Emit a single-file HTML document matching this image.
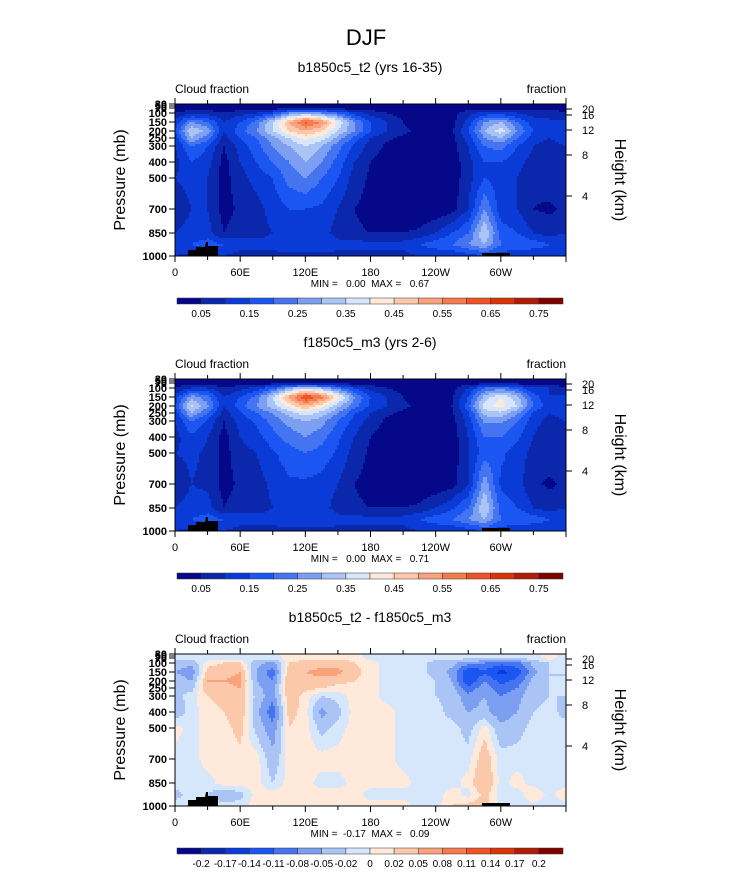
<!DOCTYPE html>
<html><head><meta charset="utf-8">
<style>
body{margin:0;background:#fff;font-family:"Liberation Sans",sans-serif;}
svg text{font-family:"Liberation Sans",sans-serif;fill:#000;white-space:pre;}
</style></head>
<body>
<svg id="chart" width="733" height="888" xmlns="http://www.w3.org/2000/svg">
<text x="366" y="45" font-size="22" text-anchor="middle">DJF</text>
</svg>
<script>
const lons=[0,15,30,45,60,75,90,105,120,135,150,165,180,195,210,225,240,255,270,285,300,315,330,345,360];
const levels=[70,100,150,200,250,300,400,500,700,850,925,1000];
const field1=[
[0.02,0.02,0.02,0.02,0.02,0.02,0.02,0.02,0.03,0.03,0.02,0.02,0.02,0.02,0.02,0.02,0.02,0.02,0.02,0.02,0.02,0.02,0.02,0.02,0.02],
[0.05,0.08,0.08,0.05,0.08,0.1,0.15,0.25,0.3,0.25,0.2,0.12,0.08,0.05,0.03,0.03,0.03,0.03,0.08,0.12,0.12,0.1,0.08,0.1,0.05],
[0.12,0.25,0.2,0.1,0.15,0.22,0.35,0.5,0.62,0.55,0.4,0.25,0.15,0.1,0.05,0.03,0.03,0.03,0.12,0.25,0.3,0.2,0.12,0.1,0.12],
[0.15,0.35,0.28,0.1,0.18,0.25,0.35,0.45,0.5,0.45,0.35,0.25,0.15,0.1,0.06,0.04,0.03,0.04,0.15,0.3,0.38,0.25,0.15,0.12,0.15],
[0.12,0.3,0.22,0.08,0.15,0.2,0.28,0.35,0.42,0.38,0.28,0.18,0.1,0.06,0.04,0.03,0.03,0.03,0.12,0.25,0.3,0.2,0.12,0.1,0.12],
[0.1,0.2,0.15,0.05,0.12,0.18,0.25,0.3,0.35,0.3,0.22,0.14,0.08,0.04,0.02,0.02,0.02,0.03,0.1,0.2,0.22,0.15,0.1,0.08,0.1],
[0.08,0.15,0.12,0.03,0.1,0.15,0.2,0.25,0.3,0.25,0.18,0.1,0.05,0.02,0.01,0.01,0.01,0.02,0.08,0.15,0.15,0.12,0.08,0.06,0.08],
[0.1,0.12,0.1,0.03,0.08,0.12,0.15,0.22,0.25,0.2,0.15,0.08,0.04,0.02,0.01,0.01,0.01,0.02,0.08,0.15,0.12,0.1,0.06,0.08,0.1],
[0.06,0.1,0.1,0.03,0.06,0.08,0.12,0.15,0.15,0.14,0.1,0.05,0.03,0.02,0.01,0.01,0.01,0.03,0.1,0.25,0.12,0.1,0.05,0.04,0.06],
[0.1,0.12,0.12,0.05,0.08,0.08,0.1,0.12,0.12,0.12,0.08,0.06,0.05,0.05,0.05,0.06,0.1,0.15,0.2,0.35,0.18,0.15,0.1,0.08,0.1],
[0.15,0.15,0.18,0.15,0.12,0.12,0.12,0.15,0.15,0.15,0.12,0.12,0.12,0.12,0.12,0.15,0.18,0.2,0.25,0.3,0.2,0.2,0.18,0.15,0.15],
[0.1,0.08,0.1,0.1,0.08,0.08,0.08,0.08,0.08,0.08,0.08,0.08,0.08,0.08,0.08,0.1,0.1,0.1,0.12,0.15,0.12,0.1,0.1,0.1,0.1]];
const field2=[
[0.02,0.02,0.02,0.02,0.02,0.02,0.02,0.02,0.03,0.03,0.02,0.02,0.02,0.02,0.02,0.02,0.02,0.02,0.02,0.02,0.02,0.02,0.02,0.02,0.02],
[0.05,0.1,0.1,0.05,0.08,0.12,0.18,0.28,0.35,0.3,0.22,0.14,0.08,0.05,0.03,0.03,0.03,0.03,0.1,0.2,0.22,0.18,0.1,0.1,0.05],
[0.12,0.28,0.22,0.1,0.15,0.22,0.35,0.52,0.66,0.58,0.42,0.26,0.15,0.1,0.05,0.03,0.03,0.04,0.15,0.32,0.4,0.32,0.18,0.1,0.12],
[0.15,0.36,0.26,0.1,0.18,0.25,0.33,0.42,0.5,0.42,0.32,0.22,0.14,0.1,0.06,0.04,0.03,0.05,0.18,0.38,0.42,0.35,0.2,0.12,0.15],
[0.12,0.3,0.2,0.08,0.14,0.2,0.25,0.32,0.38,0.33,0.25,0.16,0.1,0.06,0.04,0.03,0.03,0.04,0.14,0.32,0.34,0.26,0.14,0.1,0.12],
[0.1,0.2,0.14,0.05,0.12,0.16,0.22,0.27,0.3,0.27,0.2,0.13,0.08,0.04,0.02,0.02,0.02,0.03,0.12,0.26,0.26,0.2,0.12,0.08,0.1],
[0.08,0.14,0.1,0.03,0.1,0.13,0.18,0.22,0.25,0.22,0.16,0.1,0.05,0.02,0.01,0.01,0.01,0.02,0.1,0.2,0.2,0.16,0.1,0.06,0.08],
[0.1,0.11,0.09,0.03,0.08,0.1,0.14,0.18,0.2,0.18,0.14,0.08,0.04,0.02,0.01,0.01,0.01,0.02,0.09,0.18,0.16,0.13,0.08,0.08,0.1],
[0.06,0.1,0.09,0.03,0.06,0.08,0.11,0.14,0.14,0.13,0.1,0.05,0.03,0.02,0.01,0.01,0.01,0.03,0.1,0.28,0.14,0.12,0.06,0.04,0.06],
[0.1,0.12,0.12,0.05,0.08,0.08,0.1,0.12,0.12,0.12,0.08,0.06,0.05,0.05,0.05,0.06,0.1,0.14,0.2,0.35,0.18,0.15,0.1,0.08,0.1],
[0.15,0.15,0.18,0.15,0.12,0.12,0.12,0.15,0.15,0.15,0.12,0.12,0.12,0.12,0.12,0.15,0.18,0.2,0.25,0.3,0.2,0.2,0.18,0.15,0.15],
[0.1,0.08,0.1,0.1,0.08,0.08,0.08,0.08,0.08,0.08,0.08,0.08,0.08,0.08,0.08,0.1,0.1,0.1,0.12,0.15,0.12,0.1,0.1,0.1,0.1]];
const field3=[
[-0.01,-0.01,-0.01,-0.01,-0.01,-0.01,-0.01,0.01,0.01,0.01,0.01,0.01,-0.01,-0.01,-0.01,-0.01,-0.01,-0.01,-0.01,-0.01,-0.01,-0.01,-0.01,0.01,-0.01],
[-0.03,-0.04,0.01,0.02,0.02,-0.04,-0.06,0.02,0.03,0.04,0.04,0.02,0.01,-0.01,-0.01,-0.01,-0.03,-0.04,-0.07,-0.08,-0.1,-0.09,-0.04,-0.02,-0.02],
[-0.05,-0.07,0.03,0.04,0.05,-0.05,-0.1,0.04,0.05,0.06,0.06,0.03,0.01,-0.01,-0.01,-0.01,-0.03,-0.06,-0.14,-0.12,-0.15,-0.13,-0.06,-0.02,-0.02],
[-0.03,-0.05,0.05,0.05,0.06,-0.05,-0.08,0.05,0.04,0.04,0.03,0.02,0.01,-0.01,-0.01,-0.01,-0.02,-0.05,-0.14,-0.08,-0.12,-0.1,-0.04,-0.02,-0.02],
[-0.02,-0.03,0.04,0.04,0.05,-0.04,-0.07,0.05,0.03,0.02,0.01,0.01,0.01,-0.01,-0.01,-0.01,-0.02,-0.04,-0.1,-0.06,-0.1,-0.08,-0.03,-0.02,-0.02],
[-0.03,-0.01,0.02,0.03,0.04,-0.03,-0.07,0.04,0.01,-0.02,-0.01,0.01,0.01,-0.01,-0.01,-0.01,-0.02,-0.03,-0.07,-0.05,-0.08,-0.06,-0.03,-0.02,-0.02],
[-0.04,-0.01,0.01,0.02,0.04,-0.04,-0.1,0.03,0.01,-0.06,-0.03,0.01,0.01,0.01,-0.01,-0.01,-0.01,-0.03,-0.05,-0.04,-0.07,-0.05,-0.02,-0.01,-0.03],
[0.01,-0.01,0.01,0.01,0.03,-0.03,-0.07,0.02,0.01,-0.03,-0.01,0.01,0.01,0.01,-0.01,-0.01,-0.01,-0.01,-0.03,0.01,-0.04,-0.03,-0.01,-0.01,-0.01],
[-0.01,-0.01,0.01,0.01,0.01,0.01,-0.04,0.01,0.01,0.01,0.01,0.01,0.01,0.01,-0.01,-0.01,-0.01,-0.01,-0.01,0.04,-0.01,-0.01,-0.01,-0.01,-0.01],
[-0.01,-0.01,-0.01,0.01,0.01,0.01,-0.02,0.01,0.01,-0.01,-0.01,0.01,0.01,0.01,0.01,-0.01,-0.01,-0.01,0.01,0.05,-0.01,0.01,-0.01,-0.01,-0.01],
[-0.03,-0.01,-0.02,-0.04,-0.03,0.01,0.01,0.01,0.01,0.01,0.01,0.01,-0.01,-0.01,-0.01,-0.01,-0.01,0.01,-0.01,0.03,-0.01,-0.01,0.02,-0.01,0.02],
[-0.01,-0.01,-0.01,-0.01,-0.01,0.01,0.01,0.01,0.01,0.01,0.01,0.01,0.01,0.01,0.01,-0.01,-0.01,0.02,0.03,0.03,-0.01,-0.01,-0.01,-0.01,-0.01]];
const boundsAbs=[0.05,0.1,0.15,0.2,0.25,0.3,0.35,0.4,0.45,0.5,0.55,0.6,0.65,0.7,0.75];
const labelsAbs=["0.05","0.15","0.25","0.35","0.45","0.55","0.65","0.75"];
const boundsDiff=[-0.2,-0.17,-0.14,-0.11,-0.08,-0.05,-0.02,0,0.02,0.05,0.08,0.11,0.14,0.17,0.2];
const labelsDiff=["-0.2","-0.17","-0.14","-0.11","-0.08","-0.05","-0.02","0","0.02","0.05","0.08","0.11","0.14","0.17","0.2"];
const pTicks=[1000,850,700,500,400,300,250,200,150,100,70,50,30];
const hTicks=[4,8,12,16,20];
const xTickLabels=["0","60E","120E","180","120W","60W"];
const titles=["b1850c5_t2 (yrs 16-35)","f1850c5_m3 (yrs 2-6)","b1850c5_t2 - f1850c5_m3"];
const minmax=["MIN =   0.00  MAX =   0.67","MIN =   0.00  MAX =   0.71","MIN =  -0.17  MAX =   0.09"];

const palette=['#06088a','#0b28ad','#0a3bd6','#1b55f2','#4474f0','#7c9ff2','#abc4f6','#d6e6fb','#fee9da','#fcc8aa','#f9a27c','#f47b4e','#ef5224','#d83408','#b21c03','#800000'];
const NS="http://www.w3.org/2000/svg";
const svg=document.getElementById('chart');
const X0=175,X1=566,H=152;
const pRef=[1000,850,700,500,400,300,250,200,150,100,70,50,30];
const yRef=[152,129,105,74,58,42,34,27,18,9,4,2,0];
function yOfP(p){for(let i=0;i<pRef.length-1;i++){if(p<=pRef[i]&&p>=pRef[i+1]){const f=(pRef[i]-p)/(pRef[i]-pRef[i+1]);return yRef[i]+f*(yRef[i+1]-yRef[i]);}}return p>1000?152:0;}
const hRef=[0,4,8,12,16,20];const hy=[152,92,51,26,11,5];
function yOfH(h){for(let i=0;i<hRef.length-1;i++){if(h>=hRef[i]&&h<=hRef[i+1]){const f=(h-hRef[i])/(hRef[i+1]-hRef[i]);return hy[i]+f*(hy[i+1]-hy[i]);}}return 0;}
function xOf(l){return X0+(l/360)*(X1-X0);}
function mk(tag,attrs,parent){const e=document.createElementNS(NS,tag);for(const k in attrs)e.setAttribute(k,attrs[k]);(parent||svg).appendChild(e);return e;}
function colorIdx(v,b){let i=0;while(i<b.length&&v>=b[i])i++;return i;}
function sample(field,lonv,yoff){
  let fx=lonv/15;let i0=Math.min(Math.floor(fx),lons.length-2);let tx=fx-i0;
  const ly=levels.map(yOfP);let j0=0,ty=0;
  if(yoff<=ly[0]){j0=0;ty=0;}else if(yoff>=ly[ly.length-1]){j0=ly.length-2;ty=1;}
  else{for(let j=0;j<ly.length-1;j++){if(yoff>=ly[j]&&yoff<=ly[j+1]){j0=j;ty=(yoff-ly[j])/(ly[j+1]-ly[j]);break;}}}
  const a=field[j0][i0],b=field[j0][i0+1],c=field[j0+1][i0],d=field[j0+1][i0+1];
  return (a*(1-tx)+b*tx)*(1-ty)+(c*(1-tx)+d*tx)*ty;
}
function panel(k,field,bounds,labels){
  const T=104+k*275;
  const g=mk('g',{});
  
  
  const t=mk('text',{x:370,y:T-32,'font-size':14,'text-anchor':'middle'},g);t.textContent=titles[k];
  
  const l1=mk('text',{x:X0,y:T-11,'font-size':12},g);l1.textContent='Cloud fraction';
  
  const l2=mk('text',{x:X1,y:T-11,'font-size':12,'text-anchor':'end'},g);l2.textContent='fraction';
  
  const cells=mk('g',{},g);
  
  const dx=2,dy=2;const W=X1-X0;
  for(let y=0;y<H;y+=dy){
    let runStart=0,runC=-1;
    for(let x=0;x<W+dx;x+=dx){
      let c=-1;
      if(x<W){const lon=(x+dx/2)/W*360;c=colorIdx(sample(field,Math.min(lon,359.9),y+dy/2),bounds);}
      if(c!==runC){
        if(runC>=0){const r=mk('rect',{x:X0+runStart,y:T+y,width:Math.min(x,W)-runStart+0.5,height:Math.min(dy+0.5,H-y),fill:palette[runC]},cells);
          }
        runStart=x;runC=c;
      }
    }
  }
  const land=mk('path',{d:`M${X0+13},${T+H} L${X0+13},${T+H-6} L${X0+21},${T+H-6} L${X0+21},${T+H-9} L${X0+30},${T+H-9} L${X0+31},${T+H-14} L${X0+33},${T+H-14} L${X0+33},${T+H-10} L${X0+43},${T+H-10} L${X0+43},${T+H} Z M${X0+307},${T+H} L${X0+307},${T+H-3} L${X0+335},${T+H-3} L${X0+335},${T+H} Z`,fill:'#000'},g);
  
  const fr=mk('rect',{x:X0,y:T,width:X1-X0,height:H,fill:'none',stroke:'#000','stroke-width':1},g);
  
  for(let lon=0;lon<=360;lon+=30){const xx=xOf(lon);const maj=lon%60===0;
    mk('line',{x1:xx,y1:T+H,x2:xx,y2:T+H+(maj?6:4),stroke:'#000'},g);
    mk('line',{x1:xx,y1:T,x2:xx,y2:T-(maj?6:4),stroke:'#000'},g);
    if(maj&&lon<360){const tl=mk('text',{x:xx,y:T+H+20,'font-size':11,'text-anchor':'middle'},g);tl.textContent=xTickLabels[lon/60];
      }}
  pTicks.forEach(p=>{const yy=T+yOfP(p);mk('line',{x1:X0,y1:yy,x2:X0-6,y2:yy,stroke:'#000'},g);
    const tl=mk('text',{x:X0-8,y:yy+4,'font-size':11,'font-weight':'bold','text-anchor':'end'},g);tl.textContent=p;
    });
  hTicks.forEach(h=>{const yy=T+yOfH(h);mk('line',{x1:X1,y1:yy,x2:X1+6,y2:yy,stroke:'#000'},g);
    const tl=mk('text',{x:X1+16,y:yy+4,'font-size':11}, g);tl.textContent=h;
    });
  const ya=mk('text',{x:0,y:0,'font-size':16,'text-anchor':'middle',transform:`translate(125,${T+H/2}) rotate(-90)`},g);ya.textContent='Pressure (mb)';
  
  const ya2=mk('text',{x:0,y:0,'font-size':16,'text-anchor':'middle',transform:`translate(615,${T+H/2}) rotate(90)`},g);ya2.textContent='Height (km)';
  
  const mm=mk('text',{x:370,y:T+H+31,'font-size':10,'text-anchor':'middle'},g);mm.textContent=minmax[k];
  
  const cb=mk('g',{},g);
  const cx0=177,cx1=563,cy=T+194,sw=(cx1-cx0)/16;
  for(let i=0;i<16;i++){const r=mk('rect',{x:cx0+i*sw,y:cy,width:sw,height:6,fill:palette[i],stroke:'#333','stroke-width':0.5},cb);
    }
  const step=labels.length===8?2:1;
  labels.forEach((s,i)=>{const tl=mk('text',{x:cx0+sw*(1+i*step),y:cy+19,'font-size':10,'text-anchor':'middle'},cb);tl.textContent=s;
    });
}
panel(0,field1,boundsAbs,labelsAbs);
panel(1,field2,boundsAbs,labelsAbs);
panel(2,field3,boundsDiff,labelsDiff);
</script>
</body></html>
